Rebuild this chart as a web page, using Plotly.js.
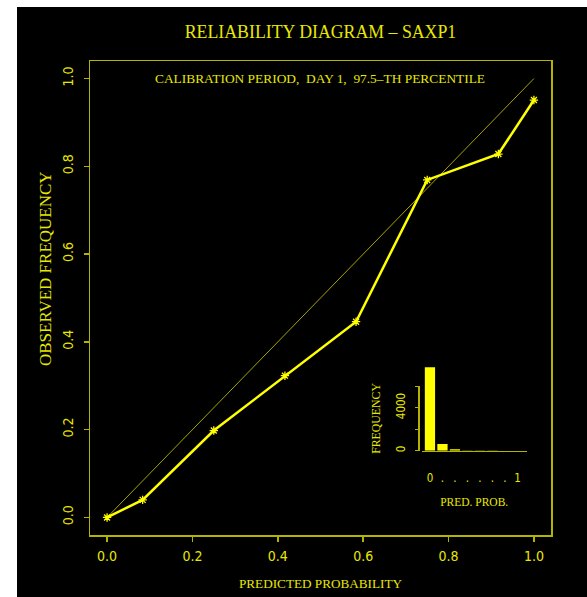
<!DOCTYPE html>
<html><head><meta charset="utf-8">
<script src="https://cdn.plot.ly/plotly-3.0.1.min.js"></script>
<style>
html,body{margin:0;padding:0;background:#ffffff;width:587px;height:597px;overflow:hidden}
#chart{position:absolute;left:17px;top:7px;width:570px;height:590px}
</style>
</head><body><div id="chart"></div>
<script>
// ---- data ----
const predProb = [0, 0.0833, 0.25, 0.4167, 0.5833, 0.75, 0.9167, 1.0];
const obsFreq  = [0, 0.040, 0.198, 0.323, 0.446, 0.769, 0.828, 0.951];
const diagX = [0, 1];
const diagY = [0, 1];
const histCategory = [0, 1, 2, 3, 4, 5, 6, 7];
const histCount = [7760, 620, 130, 30, 15, 10, 5, 5];
const histTickText = ["0", ".", ".", ".", ".", ".", ".", "1"];
const mainTickVals = [0, 0.2, 0.4, 0.6, 0.8, 1.0];
const mainTickText = ["0.0", "0.2", "0.4", "0.6", "0.8", "1.0"];
const insetTickVals = [0, 2000, 4000, 6000];
const insetTickText = ["0", "", "4000", ""];

// ---- layout helpers (pixel -> paper fraction) ----
const W = 570, H = 590, L = 73, R = 36, T = 54, B = 62;
const PW = W - L - R, PH = H - T - B;
const OX = 17, OY = 7; // div offset in page
const px = x => (x - OX - L) / PW;
const py = y => (OY + T + PH - y) / PH;

const TXT = '#e8e800', FRAME = '#b4b400', CURVE = '#ffff00', DIAG = '#a4a400';
const serif = '"Liberation Serif", "Times New Roman", serif';
const narrow = '"Liberation Sans Narrow", "DejaVu Sans Condensed", sans-serif';

const traces = [
  {x: diagX, y: diagY, type: 'scatter', mode: 'lines', xaxis: 'x', yaxis: 'y',
   line: {color: DIAG, width: 1}, hoverinfo: 'skip'},
  {x: predProb, y: obsFreq, type: 'scatter', mode: 'lines+markers', xaxis: 'x', yaxis: 'y',
   line: {color: CURVE, width: 2.5},
   marker: {symbol: 'asterisk-open', size: 7, color: CURVE, line: {color: CURVE, width: 1.3}}},
  {x: histCategory, y: histCount, type: 'bar', xaxis: 'x2', yaxis: 'y2',
   width: 0.82, marker: {color: CURVE, line: {width: 0}}},
  {x: [], y: [], type: 'scatter', xaxis: 'x2', yaxis: 'y3', hoverinfo: 'skip'}
];

const layout = {
  width: W, height: H,
  margin: {l: L, r: R, t: T, b: B},
  paper_bgcolor: '#000000', plot_bgcolor: 'rgba(0,0,0,0)',
  showlegend: false,
  title: {text: 'RELIABILITY DIAGRAM \u2013 SAXP1', font: {family: serif, size: 17.8, color: TXT},
          xref: 'paper', x: 0.5, xanchor: 'center', yref: 'container', y: 1 - (32 - OY) / H, yanchor: 'middle'},
  xaxis: {domain: [0, 1], range: [-0.04, 1.04], showgrid: false, zeroline: false,
          showline: true, mirror: true, linecolor: FRAME, linewidth: 1.5,
          ticks: 'outside', ticklen: 5, tickwidth: 1.5, tickcolor: FRAME,
          tickvals: mainTickVals, ticktext: mainTickText,
          tickfont: {family: narrow, size: 14, color: TXT}, ticklabelstandoff: 3,
          title: {text: 'PREDICTED PROBABILITY', font: {family: serif, size: 13.2, color: TXT}, standoff: 15}},
  yaxis: {domain: [0, 1], range: [-0.04, 1.04], showgrid: false, zeroline: false,
          showline: true, mirror: true, linecolor: FRAME, linewidth: 1.5,
          ticks: 'outside', ticklen: 5, tickwidth: 1.5, tickcolor: FRAME,
          tickvals: mainTickVals, ticktext: mainTickText, tickangle: -90,
          tickfont: {family: narrow, size: 14, color: TXT}, ticklabelstandoff: 5},
  xaxis2: {domain: [px(421.7), px(526.7)], anchor: 'y2', range: [-0.66, 7.74],
           showgrid: false, zeroline: false, showline: true, linecolor: FRAME, linewidth: 1.5,
           ticks: '', tickvals: histCategory, ticktext: histTickText, tickangle: 0,
           tickfont: {family: narrow, size: 11.5, color: TXT}, ticklabelstandoff: 16,
           title: {text: 'PRED. PROB.', font: {family: serif, size: 11.5, color: TXT}, standoff: 14}},
  yaxis2: {domain: [py(450.7), py(366.8)], anchor: 'x2', range: [0, 7800], visible: false},
  yaxis3: {domain: [py(450.7), py(386.2)], anchor: 'free', position: px(418.3), range: [0, 6000],
           showgrid: false, zeroline: false, showline: true, linecolor: FRAME, linewidth: 1.5,
           ticks: 'outside', ticklen: 3, tickwidth: 1.2, tickcolor: FRAME,
           tickvals: insetTickVals, ticktext: insetTickText, tickangle: -90,
           tickfont: {family: narrow, size: 11.5, color: TXT}, ticklabelstandoff: 6,
           title: {text: 'FREQUENCY', font: {family: serif, size: 11.8, color: TXT}, standoff: 9}},
  annotations: [
    {text: 'CALIBRATION PERIOD,\u00a0\u00a0DAY 1,\u00a0\u00a097.5\u2013TH PERCENTILE',
     xref: 'paper', yref: 'paper', x: px(319.5), y: py(78), xanchor: 'center', yanchor: 'middle',
     showarrow: false, font: {family: serif, size: 13.4, color: TXT}},
    {text: 'OBSERVED FREQUENCY', textangle: -90,
     xref: 'paper', yref: 'paper', x: px(45), y: py(269), xanchor: 'center', yanchor: 'middle',
     showarrow: false, font: {family: serif, size: 17, color: TXT}}
  ]
};

Plotly.newPlot('chart', traces, layout, {displayModeBar: false, staticPlot: true});
</script>
</body></html>
